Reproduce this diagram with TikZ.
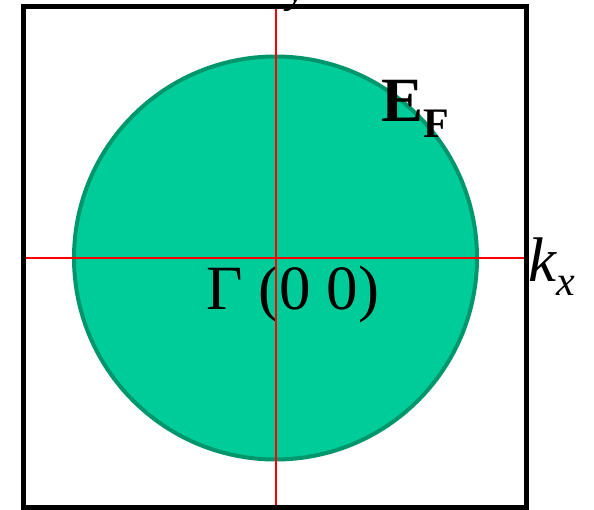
\documentclass[tikz,border=0pt]{standalone}
\usepackage{fontspec}
\setmainfont{Liberation Serif}
\definecolor{fsfill}{RGB}{0,204,153}
\definecolor{fsedge}{RGB}{0,150,108}
\definecolor{axisred}{RGB}{255,0,0}
\begin{document}
\begin{tikzpicture}[x=1pt,y=-1pt,
  frame/.style={draw=black,line width=5pt},
  fermi/.style={circle,draw=fsedge,fill=fsfill,line width=4pt,minimum size=403pt,inner sep=0pt},
  axisline/.style={draw=axisred,line width=2pt},
  bigtxt/.style={inner sep=0pt,font=\fontsize{63}{70}\selectfont}]
\useasboundingbox (0,0) rectangle (594,510);
\draw[frame] (23,6.5) rectangle (526,507.5);
\node[fermi] (fs) at (275.5,258) {};
\coordinate (top) at (275.5,9);
\coordinate (bot) at (275.5,505);
\coordinate (lft) at (25.5,258);
\coordinate (rgt) at (523.5,258);
\node[bigtxt,anchor=base west] (gamma) at (206,310) {Γ (0 0)};
\draw[axisline] (top) -- (bot);
\draw[axisline] (lft) -- (rgt);
\node[bigtxt,anchor=base west] (ef) at (381,122) {\bfseries E\raisebox{-16pt}{\fontsize{42}{42}\selectfont F}};
\node[bigtxt,anchor=base west] (kx) at (528,282) {\itshape k\raisebox{-14pt}{\fontsize{42}{42}\selectfont x}};
\node[bigtxt,anchor=base west] (ky) at (259,-2) {\itshape k\raisebox{-5pt}{\fontsize{42}{42}\selectfont y}};
\end{tikzpicture}
\end{document}
